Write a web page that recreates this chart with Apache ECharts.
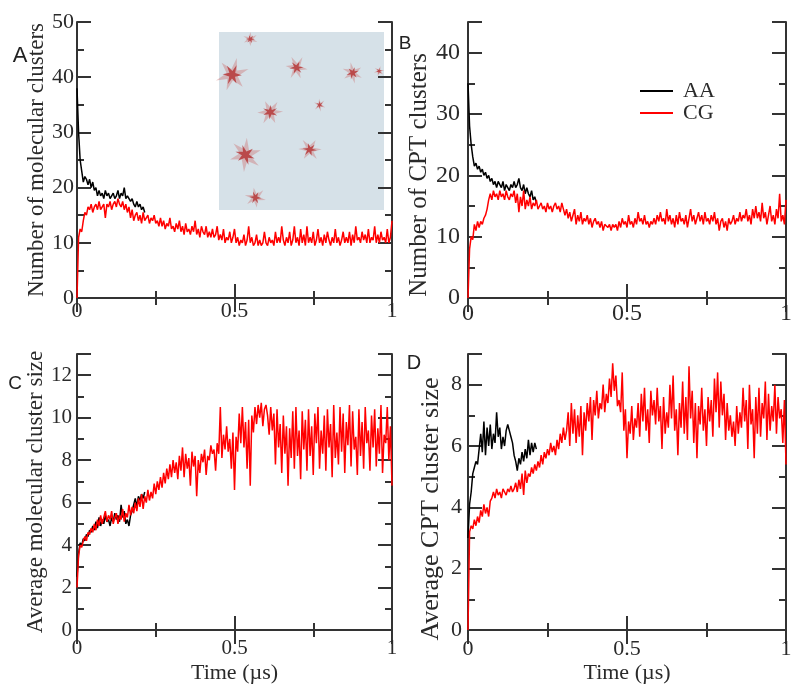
<!DOCTYPE html>
<html>
<head>
    <meta charset="utf-8">
    <title>Cluster analysis</title>
    <script src="https://cdn.jsdelivr.net/npm/echarts@6/dist/echarts.min.js"></script>
</head>
<body style="margin:0;background:#fff;">
    <div id="main" style="width:800px;height:695px;"></div>
    <script type="text/javascript">
        // time step of the sampled traces (µs)
        var STEP = 0.005;

        // panel A: number of molecular clusters
        var aAA = [38,30,25,23,21,22,21.5,20.5,21.5,20,21,19.5,20,18.5,19.5,18.5,19,18,19.5,18.5,19,18,18.5,19,18,18.5,19.5,18,19,18.5,20,18,18.5,18,17.5,18,17,16.5,17.5,16.5,17,16,16.5,15.5];
        var aCG = [0,11,12.5,12,14,15.5,15,16.5,16,17,15.5,16.5,17,16,17.5,16,16.5,17,14.5,17,16.5,17.5,16,17,17.5,16.5,18,17,16.5,17.5,16,17,15.5,16.5,14.5,16,14,15,15.5,14,
            15,13.5,15.5,14,14.5,15,13.5,14.5,14,15,13.5,14,13,14.5,13,14,12.5,13.5,13,14.5,12.5,13,12,13.5,12.5,14,12,13,11.5,13.5,12,12.5,11.5,13,12,14,11.5,12.5,11,13,
            12,11.5,13,11,12,11,12.5,11,11.5,13,10.5,11.5,10.5,12.5,10,11,10.5,12,10,11,12.5,10,11,9.5,10.5,10,11.5,9.5,10.5,13,10,11,9.5,10,11.5,9.5,10.5,9.5,10,12,
            10,9.5,11,10,10.5,9.5,12,10,11,10,13,10.5,9.5,11,10,12,9.5,10.5,13,10,11,9.5,12.5,10,11.5,9.5,13,10,11,10,12,9.5,10.5,12.5,10,11,9.5,11.5,10,12,
            10.5,9.5,11,10,12.5,10,11,9.5,10.5,12,10,11,10,12,9.5,11.5,10,13,10.5,11,10,12,10.5,11.5,10,12.5,10,11,10.5,13,10,11.5,10,12,10.5,11,10,12.5,10,11,14];

        // panel B: number of CPT clusters
        var bAA = [35,28,25,23,21.5,22,21,21.5,20.5,21,20,20.5,19.5,20,19,19.5,18.5,19,18,19,18.5,18,19,17.5,18.5,18,17.5,18.5,18,19,18,18.5,19.5,18,17.5,18.5,17,18,17,16.5,17.5,16,16.5,15.5];
        var bCG = [0,8,10,9.5,12,11,12.5,11.5,12.5,12,13,13.5,14.5,16,17,16,17.5,16.5,17,16,17.5,16.5,17,16,17.5,16.5,16,17,16.5,17.5,15.5,17,14,16.5,15,17.5,14.5,16,15,16.5,
            14.5,15.5,15,16,14.5,15,15.5,14.5,15,14,15.5,14.5,15,14,15,15.5,14.5,15,14,15.5,14.5,13.5,14.5,13,14,12.5,13.5,14.5,12,13.5,12.5,14,12,13,12.5,13.5,12,13,11.5,12.5,
            13,12,12.5,11.5,12.5,11,12,12,11.5,12,11,12,11.5,12,11,12.5,11.5,13,12,12.5,11.5,13.5,12,12.5,11.5,13,12,14,12.5,13,12,13.5,12,12.5,11.5,12.5,12,13,12,13.5,
            12.5,14,12.5,13,12,14.5,12.5,13.5,12,13,11.5,13.5,12,14,12.5,13,12,13.5,11.5,13,14.5,12.5,13.5,12,13,14,12.5,13.5,12,14,12.5,13,12,13.5,12.5,14,12,13,11,12.5,
            13,11.5,12.5,11,13,12,12.5,13.5,12,13,12.5,14,12.5,13.5,13,14.5,12.5,13.5,12,14.5,13,15,13,14,12.5,15.5,13,14,12,13.5,15,12.5,13.5,12,14.5,13,17,12.5,13.5,12,16];

        // panel C: average molecular cluster size
        var cAA = [2.5,3.6,4.1,4,4.3,4.2,4.5,4.4,4.7,4.6,4.9,4.7,5.1,4.8,5.3,4.9,5.2,5,5.4,5.1,5.2,4.9,5.3,5.1,5.5,5.2,5.4,5.1,5.9,5.3,5.6,5,5.2,4.9,5.4,5.6,5.9,6.2,5.8,6.3,6.1,6.4,6.2,6.5];
        var cCG = [2,3.5,4,3.9,4.2,4.4,4.2,4.6,4.5,4.8,4.6,5,4.7,5.2,4.9,5.4,5,5.3,5.6,5.1,5.4,5.2,5.6,5,5.3,5.5,5,5.4,5.2,5.7,5.1,5.5,5.3,5.9,5.4,5.8,5.5,6,5.6,6.2,
            5.8,6.4,5.7,6.3,6,6.6,6.1,6.5,6.2,6.9,6.4,7,6.6,7.2,6.7,7.4,6.9,7.6,7.1,7.8,7.2,8,7.4,7.9,7.1,8.2,7.5,8.6,7.2,8.3,7.6,8.1,6.8,8.4,7.7,8.2,6.3,8,7.4,8.3,
            7.9,8.5,7.3,8.2,8,8.7,8.3,8.5,7.5,8.8,8.3,10.5,8.1,9.2,8.5,9.6,8.4,9,7.6,9.3,6.6,9.1,8.4,10.2,8.8,10.5,8.6,9.8,7.6,9.9,6.8,10.1,9.3,10.5,9.7,10.6,10,10.7,9.6,10.4,
            10.6,10.1,9.2,10.5,9.4,10.2,7.8,10.4,8.6,9.7,7.4,10.1,8.3,9.6,6.8,9.5,8.1,10.3,7.6,10.5,8.2,9.4,7.1,10.3,8.5,9.9,7.5,10.4,8.2,9.6,7.3,10.2,8.8,10.5,7.6,9.4,8.3,10.1,7.5,10.4,
            8.6,9.7,7.2,10.6,8.1,9.3,7.8,10.5,8.4,10.2,7.4,9.8,8.7,10.6,7.7,10.3,8.5,9.1,7.3,10.4,8.2,9.8,7.6,10.5,8.8,9.4,7.5,10.1,8.6,10.4,7.7,9.5,8.3,10.6,7.4,9.2,8.8,10.5,8,9.6,6.8];

        // panel D: average CPT cluster size
        var dAA = [3,4.1,4.5,5.1,5.3,5.5,5.4,5.9,6.4,5.8,6.8,5.7,6.6,6,6.7,5.9,6.4,6.1,7.1,6.3,6.6,5.9,6.3,6,6.5,6.7,6.5,6.3,6.1,5.7,5.5,5.2,5.6,5.4,5.8,5.5,5.9,5.6,6.2,5.7,6.1,5.8,6.1,5.9];
        var dCG = [0,3.2,3.4,3.3,3.6,3.4,3.7,3.5,3.9,3.7,4.1,3.8,4,3.7,4.2,4.3,4.5,4.3,4.6,4.4,4.5,4.3,4.6,4.5,4.4,4.6,4.5,4.7,4.5,4.6,4.8,4.5,4.9,4.6,5.1,4.4,5.2,4.8,5.1,5,
            5.3,5.1,5.4,5.2,5.5,5.3,5.7,5.4,5.8,5.6,5.9,5.7,6.1,5.8,6,5.7,6.2,5.9,6.4,6.1,6.6,6.2,6.5,7.1,6,7.4,6.4,7.2,6.1,7,6.3,7.3,5.7,7.1,6.5,7.4,6.8,7.6,6.2,7.5,
            7,7.8,6.9,7.4,7.2,8,7.1,7.7,7.4,8.2,7.6,8.7,7.8,8.3,7.3,7.5,7.1,8.4,6.5,7.2,5.6,6.8,6.4,7.3,6.2,6.9,6.6,7.4,6.3,7.7,6.8,7.9,6.5,7.2,6.1,7.8,7,7.5,6.7,7.9,
            6.8,7.3,5.9,7.6,6.4,7.1,6.6,8,6.9,8.3,6.5,7.2,5.7,7.4,6.6,8.1,6.4,7.6,6.2,8.6,6.9,7.8,6.1,7.4,5.6,7.3,6.7,7.9,6.5,7.2,6,7.6,6.8,7.5,6.3,8.2,7.1,8.4,6.6,8.1,
            7,7.7,6.2,7.4,6.5,7,6.3,6.8,6,7.3,6.4,7.1,6.6,7.9,6.8,7.5,5.9,8,6.7,7.2,5.6,7.6,6.4,7.9,6.3,7.4,6.9,8.1,6.2,7.7,6.5,7.3,6.8,8,6.4,7.6,6.9,7.2,6.1,7.5,5.4];

        // inset snapshot of panel A: cluster positions (fraction of the box) and sizes
        var insetX = [0.19, 0.08, 0.47, 0.81, 0.97, 0.31, 0.61, 0.16, 0.55, 0.22];
        var insetY = [0.96, 0.76, 0.80, 0.77, 0.78, 0.55, 0.59, 0.31, 0.34, 0.07];
        var insetSize = [14, 32, 22, 20, 10, 24, 12, 32, 22, 20];

        var xTicks = { min: 0, max: 1, major: 0.5 };

        var panels = [
            { aa: aAA, cg: aCG, left: 77, top: 22, width: 315, height: 276, yMax: 50, yMajor: 10, yMinor: 5,
              yName: 'Number of molecular clusters', nameSize: 23, nameGap: 25, namePad: [0, 0, 0, 0],
              tickSize: 22, yMargin: 3, xMargin: 2, xName: '' },
            { aa: bAA, cg: bCG, left: 468, top: 22, width: 318, height: 276, yMax: 45, yMajor: 10, yMinor: 5,
              yName: 'Number of CPT clusters', nameSize: 25, nameGap: 30, namePad: [0, 30, 0, 0],
              tickSize: 24, yMargin: 8, xMargin: 4, xName: '' },
            { aa: cAA, cg: cCG, left: 77, top: 354, width: 315, height: 276, yMax: 13, yMajor: 2, yMinor: 1,
              yName: 'Average molecular cluster size', nameSize: 23, nameGap: 25, namePad: [0, 0, 0, 0],
              tickSize: 21, yMargin: 5, xMargin: 8, xName: 'Time (\u00b5s)' },
            { aa: dAA, cg: dCG, left: 468, top: 354, width: 318, height: 276, yMax: 9, yMajor: 2, yMinor: 1,
              yName: 'Average CPT cluster size', nameSize: 26, nameGap: 24, namePad: [0, 34, 0, 0],
              tickSize: 22, yMargin: 6, xMargin: 8, xName: 'Time (\u00b5s)' }
        ];

        var FRAME = '#333';
        var SERIF = 'Liberation Serif';

        function pairs(vals) {
            return vals.map(function (v, i) { return [+(i * STEP).toFixed(3), v]; });
        }

        var grids = [], xAxes = [], yAxes = [], series = [];

        panels.forEach(function (p, k) {
            grids.push({ left: p.left, top: p.top, width: p.width, height: p.height });

            var line = { show: true, lineStyle: { color: FRAME, width: 2 } };
            var bigTick = { show: true, inside: true, length: 14, lineStyle: { color: FRAME, width: 2 } };
            var smallTick = { show: true, inside: true, length: 7, lineStyle: { color: FRAME, width: 2 } };

            ['bottom', 'top'].forEach(function (pos) {
                xAxes.push({
                    gridIndex: k, type: 'value', position: pos,
                    min: xTicks.min, max: xTicks.max, interval: xTicks.major,
                    axisLine: line, axisTick: bigTick,
                    minorTick: { show: true, splitNumber: 2, length: 7, lineStyle: { color: FRAME, width: 2 } },
                    splitLine: { show: false },
                    axisLabel: pos === 'bottom'
                        ? { show: true, margin: p.xMargin, color: '#2a2a2a', fontFamily: SERIF, fontSize: p.tickSize }
                        : { show: false },
                    name: pos === 'bottom' ? p.xName : '',
                    nameLocation: 'middle', nameGap: 32,
                    nameTextStyle: { color: '#2a2a2a', fontFamily: SERIF, fontSize: 22 }
                });
            });

            ['left', 'right'].forEach(function (pos) {
                // minor-step axis: short ticks, carries the labels on the left
                yAxes.push({
                    gridIndex: k, type: 'value', position: pos,
                    min: 0, max: p.yMax, interval: p.yMinor,
                    axisLine: line, axisTick: smallTick,
                    splitLine: { show: false },
                    axisLabel: pos === 'left' ? {
                        show: true, margin: p.yMargin, color: '#2a2a2a', fontFamily: SERIF, fontSize: p.tickSize,
                        formatter: function (v) { return v % p.yMajor === 0 ? String(v) : ''; }
                    } : { show: false },
                    name: pos === 'left' ? p.yName : '',
                    nameLocation: 'middle', nameGap: p.nameGap,
                    nameTextStyle: { color: '#2a2a2a', fontFamily: SERIF, fontSize: p.nameSize, padding: p.namePad }
                });
                // major-step axis: long ticks only
                yAxes.push({
                    gridIndex: k, type: 'value', position: pos,
                    min: 0, max: p.yMax, interval: p.yMajor,
                    axisLine: { show: false }, axisTick: bigTick,
                    splitLine: { show: false }, axisLabel: { show: false }
                });
            });

            series.push({
                name: 'AA', type: 'line', xAxisIndex: k * 2, yAxisIndex: k * 4,
                data: pairs(p.aa), showSymbol: false, symbol: 'none',
                lineStyle: { color: '#000', width: 1.5 }, itemStyle: { color: '#000' }
            });
            series.push({
                name: 'CG', type: 'line', xAxisIndex: k * 2, yAxisIndex: k * 4,
                data: pairs(p.cg), showSymbol: false, symbol: 'none',
                lineStyle: { color: '#ff0000', width: 1.5 }, itemStyle: { color: '#ff0000' }
            });
        });

        // inset snapshot inside panel A
        grids.push({ left: 219, top: 32, width: 165, height: 178, show: true,
            backgroundColor: '#d6e1e8', borderWidth: 0 });
        xAxes.push({ gridIndex: 4, type: 'value', min: 0, max: 1, show: false });
        yAxes.push({ gridIndex: 4, type: 'value', min: 0, max: 1, show: false });
        var insetData = insetX.map(function (x, i) { return [x, insetY[i], insetSize[i]]; });
        var STAR = 'path://M0,-10 L2,-3 9,-6 4,0 10,4 2,3 0,10 -2,3 -9,5 -4,0 -10,-4 -2,-3 Z';
        series.push({
            type: 'scatter', xAxisIndex: 8, yAxisIndex: 16, data: insetData, silent: true,
            symbol: STAR, symbolSize: function (d) { return d[2]; },
            symbolRotate: function (v, p) { return p.dataIndex * 41; },
            itemStyle: { color: 'rgba(205,120,120,0.55)' }
        });
        series.push({
            type: 'scatter', xAxisIndex: 8, yAxisIndex: 16, data: insetData, silent: true,
            symbol: STAR, symbolSize: function (d) { return d[2] * 0.6; },
            symbolRotate: function (v, p) { return p.dataIndex * 67 + 20; },
            itemStyle: { color: 'rgba(175,25,25,0.85)' }
        });

        var letters = [
            { t: 'A', x: 20, y: 56, s: 22 },
            { t: 'B', x: 405, y: 44, s: 19 },
            { t: 'C', x: 15, y: 384, s: 19 },
            { t: 'D', x: 414, y: 363, s: 20 }
        ];

        var myChart = echarts.init(document.getElementById('main'));
        myChart.setOption({
            backgroundColor: '#fff',
            animation: false,
            grid: grids,
            xAxis: xAxes,
            yAxis: yAxes,
            legend: {
                data: ['AA', 'CG'], orient: 'vertical', left: 635, top: 75,
                icon: 'rect', itemWidth: 33, itemHeight: 2, itemGap: 0,
                textStyle: { color: '#2a2a2a', fontFamily: SERIF, fontSize: 22, padding: [0, 0, 0, 5] }
            },
            graphic: letters.map(function (l) {
                return {
                    type: 'text', x: l.x, y: l.y,
                    style: { text: l.t, fill: '#222', font: l.s + 'px "Liberation Sans", sans-serif',
                        textAlign: 'center', textVerticalAlign: 'middle' }
                };
            }),
            series: series
        });
    </script>
</body>
</html>
